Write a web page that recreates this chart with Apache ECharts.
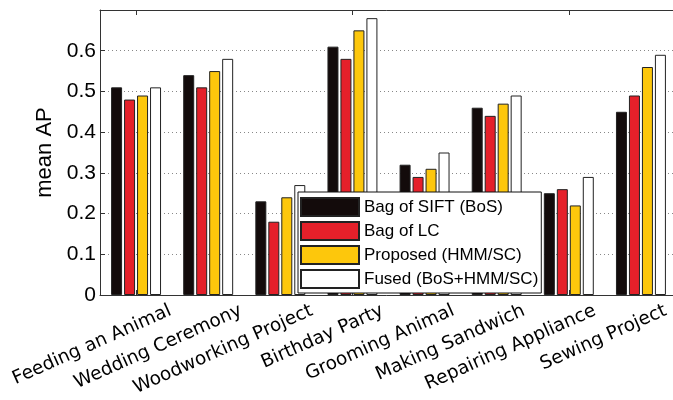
<!DOCTYPE html>
<html>
<head>
<meta charset="utf-8">
<script src="https://cdn.jsdelivr.net/npm/echarts@6/dist/echarts.min.js"></script>
<style>
  html, body { margin: 0; padding: 0; background: #fff; }
  #chart { width: 673px; height: 400px; }
</style>
</head>
<body>
<div id="chart"></div>
<script>
// Activity categories along the x axis
const categories = [
  'Feeding an Animal', 'Wedding Ceremony', 'Woodworking Project', 'Birthday Party',
  'Grooming Animal', 'Making Sandwich', 'Repairing Appliance', 'Sewing Project'
];

// Mean AP per method
const bagOfSift = [0.51, 0.54, 0.23, 0.61, 0.32, 0.46, 0.25, 0.45];
const bagOfLc   = [0.48, 0.51, 0.18, 0.58, 0.29, 0.44, 0.26, 0.49];
const proposed  = [0.49, 0.55, 0.24, 0.65, 0.31, 0.47, 0.22, 0.56];
const fused     = [0.51, 0.58, 0.27, 0.68, 0.35, 0.49, 0.29, 0.59];

const seriesNames = ['Bag of SIFT (BoS)', 'Bag of LC', 'Proposed (HMM/SC)', 'Fused (BoS+HMM/SC)'];
const seriesValues = [bagOfSift, bagOfLc, proposed, fused];
const seriesColors = ['#130b0b', '#e5202a', '#fdc70c', '#ffffff'];

// Y axis tick labels (0 .. 0.6; the 0.7 limit carries no label)
const yTickLabels = ['0', '0.1', '0.2', '0.3', '0.4', '0.5', '0.6'];

const axisColor = '#333';
const chart = echarts.init(document.getElementById('chart'), null, { renderer: 'canvas' });

const series = seriesNames.map((name, i) => ({
  name: name,
  type: 'bar',
  xAxisIndex: 0,
  yAxisIndex: 0,
  data: seriesValues[i],
  barWidth: 11,
  barGap: '18%',
  itemStyle: { color: seriesColors[i], borderColor: '#222', borderWidth: 1 },
  emphasis: { disabled: true },
  animation: false
}));

chart.setOption({
  animation: false,
  grid: [
    // plot box; it runs slightly past the right edge of the canvas
    { left: 100, top: 10, width: 577, bottom: 105, containLabel: false, outerBoundsMode: 'none' },
    // carrier for the rotated category names
    { left: 135, top: 10, width: 566, bottom: 105, containLabel: false, outerBoundsMode: 'none' }
  ],
  legend: {
    orient: 'vertical',
    left: 298,
    top: 192,
    data: seriesNames,
    itemWidth: 58,
    itemHeight: 18,
    itemGap: 4,
    icon: 'rect',
    padding: [5, 3, 4, 2],
    backgroundColor: '#fff',
    borderColor: '#111',
    borderWidth: 1,
    borderRadius: 0,
    selectedMode: false,
    textStyle: {
      fontFamily: 'Liberation Sans',
      fontSize: 17,
      color: '#000',
      lineHeight: 18
    }
  },
  xAxis: [
    {
      type: 'category',
      gridIndex: 0,
      data: categories,
      position: 'bottom',
      axisLine: { show: true, lineStyle: { color: axisColor, width: 1 } },
      axisTick: { show: true, inside: true, length: 5, alignWithLabel: true, lineStyle: { color: axisColor } },
      axisLabel: { show: false },
      splitLine: { show: false }
    },
    {
      type: 'category',
      gridIndex: 0,
      data: categories,
      position: 'top',
      axisLine: { show: true, lineStyle: { color: axisColor, width: 1 } },
      axisTick: { show: true, inside: true, length: 5, alignWithLabel: true, lineStyle: { color: axisColor } },
      axisLabel: { show: false },
      splitLine: { show: false }
    },
    {
      type: 'category',
      gridIndex: 1,
      data: categories,
      position: 'bottom',
      axisLine: { show: false },
      axisTick: { show: false },
      axisLabel: {
        show: true,
        interval: 0,
        rotate: 24,
        margin: 15,
        fontFamily: 'DejaVu Sans',
        fontSize: 18.5,
        color: '#000'
      }
    }
  ],
  yAxis: [
    {
      type: 'value',
      gridIndex: 0,
      min: 0,
      max: 0.7,
      interval: 0.1,
      name: 'mean AP',
      nameLocation: 'middle',
      nameGap: 42,
      nameTextStyle: { fontFamily: 'Liberation Sans', fontSize: 22, color: '#000' },
      axisLine: { show: true, lineStyle: { color: axisColor, width: 1 } },
      axisTick: { show: true, inside: true, length: 5, lineStyle: { color: axisColor } },
      axisLabel: {
        margin: 4,
        fontFamily: 'Liberation Sans',
        fontSize: 21,
        color: '#000',
        formatter: function (v) {
          const idx = Math.round(v * 10);
          return idx < yTickLabels.length ? yTickLabels[idx] : '';
        }
      },
      splitLine: {
        show: true,
        lineStyle: { color: '#888', width: 1, type: [1, 3] }
      }
    },
    {
      type: 'value',
      gridIndex: 1,
      min: 0,
      max: 0.7,
      show: false
    }
  ],
  series: series
});
</script>
</body>
</html>
